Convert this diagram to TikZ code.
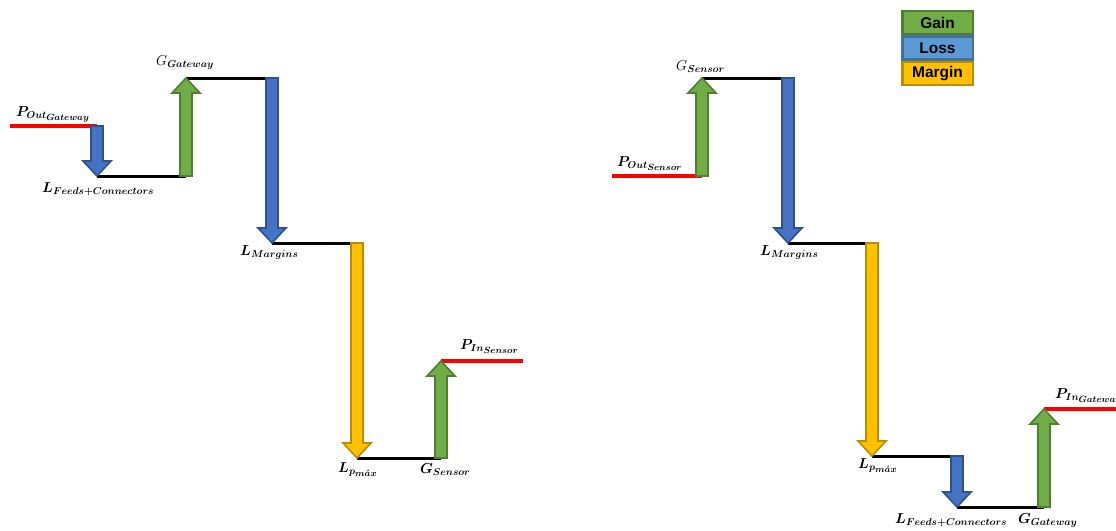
\documentclass[tikz,border=0pt]{standalone}
\usepackage{fontspec}
\usepackage{amsmath}
\usepackage{bm}
\usetikzlibrary{calc}
\newfontfamily\legendfont{Liberation Sans}
\DeclareMathSizes{14.5}{14.5}{10}{9}

\definecolor{gainfill}{HTML}{70AD47}
\definecolor{gainedge}{HTML}{507E32}
\definecolor{lossfill}{HTML}{4472C4}
\definecolor{lossedge}{HTML}{2F528F}
\definecolor{keyloss}{HTML}{5B9BD5}
\definecolor{keylossedge}{HTML}{41719C}
\definecolor{marginfill}{HTML}{FFC000}
\definecolor{marginedge}{HTML}{BC8C00}

% vertical block arrow from #2 to #3 (tip at #3)
\newcommand\blockarrow[3]{%
  \filldraw[#1] let \p1=(#2), \p2=(#3), \p3=($(#3)!15pt!(#2)$) in
    (\x1-6pt,\y1) -- (\x1-6pt,\y3) -- (\x1-14pt,\y3) -- (\x2,\y2)
    -- (\x1+14pt,\y3) -- (\x1+6pt,\y3) -- (\x1+6pt,\y1) -- cycle;}

\tikzset{
  lvl/.style={line width=3pt, black},
  sig/.style={line width=3.5pt, red},
  gainarrow/.style={fill=gainfill, draw=gainedge, line width=1.6pt},
  lossarrow/.style={fill=lossfill, draw=lossedge, line width=1.6pt},
  marginarrow/.style={fill=marginfill, draw=marginedge, line width=1.6pt},
  lbl/.style={inner sep=0pt, anchor=base west, font=\fontsize{14.5}{17}\selectfont},
  key/.style={minimum width=70.5pt, minimum height=23pt, line width=2.5pt,
    inner sep=0pt, font=\legendfont\bfseries\fontsize{15.5}{18}\selectfont}
}

\begin{document}
\begin{tikzpicture}[x=1pt, y=-1pt]
\useasboundingbox (0,0) rectangle (1116,530);

% ---------- Gateway -> Sensor link budget ----------
\coordinate (a0) at (10,126);
\coordinate (a1) at (97,126);
\coordinate (a2) at (97,176);
\coordinate (a3) at (186,176);
\coordinate (a4) at (186,78);
\coordinate (a5) at (272,78);
\coordinate (a6) at (272,243);
\coordinate (a7) at (357,243);
\coordinate (a8) at (357,458);
\coordinate (a9) at (441,458);
\coordinate (a10) at (441,361);
\coordinate (a11) at (523,361);

\draw[sig] (a0) -- (a1);
\draw[lvl] (a2) -- (a3);
\draw[lvl] (a4) -- (a5);
\draw[lvl] (a6) -- (a7);
\draw[lvl] (a8) -- (a9);
\draw[sig] (a10) -- (a11);
\blockarrow{lossarrow}{a1}{a2}
\blockarrow{gainarrow}{a3}{a4}
\blockarrow{lossarrow}{a5}{a6}
\blockarrow{marginarrow}{a7}{a8}
\blockarrow{gainarrow}{a9}{a10}

\node[lbl] (la0) at (16,116) {$\bm{P_{Out_{Gateway}}}$};
\node[lbl] (la1) at (42,192) {$\bm{L_{Feeds+Connectors}}$};
\node[lbl] (la2) at (156,65) {$G_{\bm{Gateway}}$};
\node[lbl] (la3) at (240,255) {$\bm{L_{Margins}}$};
\node[lbl] (la4) at (338,472) {$\bm{L_{p_{m\acute{a}x}}}$};
\node[lbl] (la5) at (420,473) {$\bm{G_{Sensor}}$};
\node[lbl] (la6) at (460,349) {$\bm{P_{In_{Sensor}}}$};

% ---------- Sensor -> Gateway link budget ----------
\coordinate (b0) at (612,176);
\coordinate (b1) at (702,176);
\coordinate (b2) at (702,78);
\coordinate (b3) at (788,78);
\coordinate (b4) at (788,243);
\coordinate (b5) at (872,243);
\coordinate (b6) at (872,456);
\coordinate (b7) at (957,456);
\coordinate (b8) at (957,507);
\coordinate (b9) at (1044,507);
\coordinate (b10) at (1044,409);
\coordinate (b11) at (1116,409);

\draw[sig] (b0) -- (b1);
\draw[lvl] (b2) -- (b3);
\draw[lvl] (b4) -- (b5);
\draw[lvl] (b6) -- (b7);
\draw[lvl] (b8) -- (b9);
\draw[sig] (b10) -- (b11);
\blockarrow{gainarrow}{b1}{b2}
\blockarrow{lossarrow}{b3}{b4}
\blockarrow{marginarrow}{b5}{b6}
\blockarrow{lossarrow}{b7}{b8}
\blockarrow{gainarrow}{b9}{b10}

\node[lbl] (lb0) at (617,166) {$\bm{P_{Out_{Sensor}}}$};
\node[lbl] (lb1) at (676,70) {$G_{\bm{Sensor}}$};
\node[lbl] (lb2) at (760,255) {$\bm{L_{Margins}}$};
\node[lbl] (lb3) at (858,468) {$\bm{L_{p_{m\acute{a}x}}}$};
\node[lbl] (lb4) at (895,523) {$\bm{L_{Feeds+Connectors}}$};
\node[lbl] (lb5) at (1018,523) {$\bm{G_{Gateway}}$};
\node[lbl] (lb6) at (1055,398) {$\bm{P_{In_{Gateway}}}$};

% ---------- legend ----------
\node[key, fill=gainfill, draw=gainedge] (kgain) at (937.5,22.5) {Gain};
\node[key, fill=keyloss, draw=keylossedge] (kloss) at (937.5,48) {Loss};
\node[key, fill=marginfill, draw=marginedge] (kmargin) at (937.5,73.5) {Margin};
\end{tikzpicture}
\end{document}
